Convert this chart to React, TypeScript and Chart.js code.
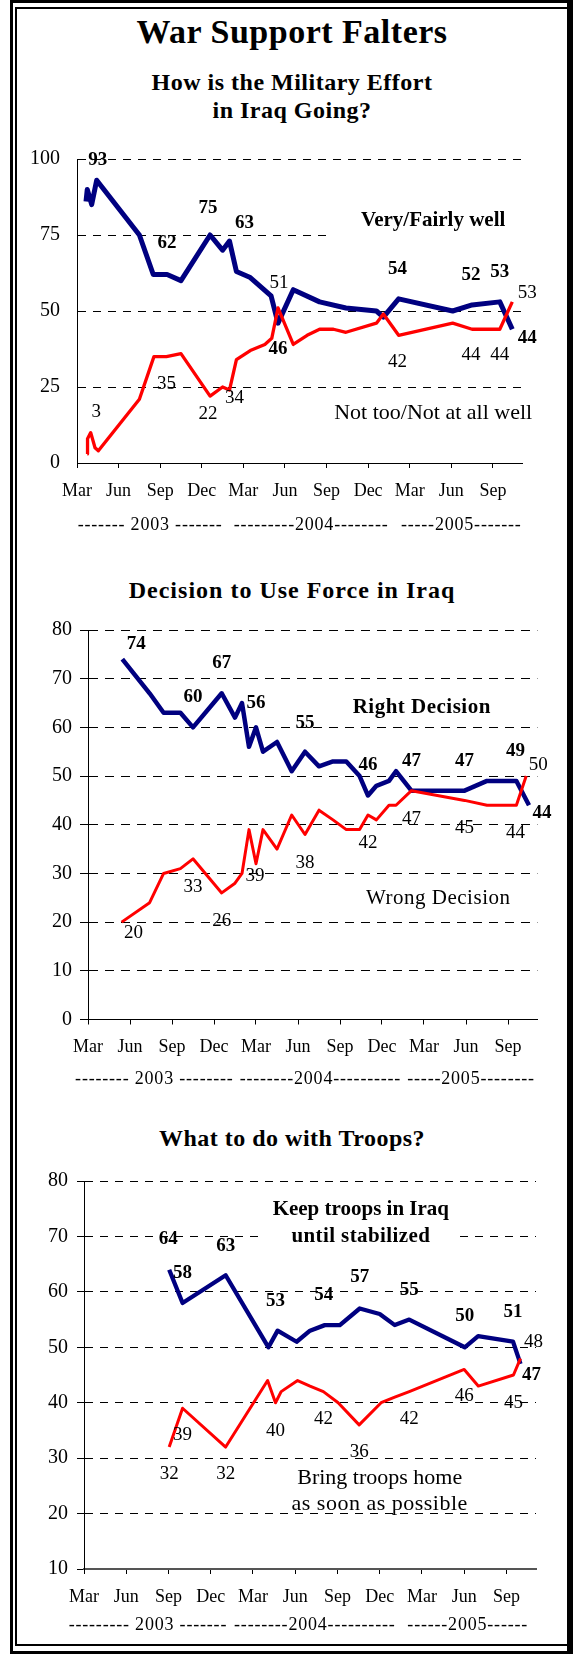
import React, { useEffect, useRef } from "react";
import { Chart, registerables } from "chart.js";

Chart.register(...registerables);

const FONT = "'Liberation Serif', 'Times New Roman', Times, serif";
const NAVY = "#000080";
const RED = "#ff0000";

// ---------- shared x axis (months since March 2003) ----------
const MONTH_TICKS = [0, 3, 6, 9, 12, 15, 18, 21, 24, 27, 30];
const MONTH_LABELS = ["Mar", "Jun", "Sep", "Dec", "Mar", "Jun", "Sep", "Dec", "Mar", "Jun", "Sep"];
const X_MAX = 32.1;

// ---------- Chart 1: How is the Military Effort in Iraq Going? ----------
const effortWellMonths = [0.65, 0.74, 1.06, 1.42, 4.5, 5.5, 6.5, 7.5, 9.6, 10.5, 11.0, 11.5, 12.5, 14.0, 14.5, 15.6, 17.5, 19.4, 21.6, 22.1, 23.2, 27.1, 28.5, 30.5, 31.4];
const effortWellValues = [86, 90, 85, 93, 75, 62, 62, 60, 75, 70, 73, 63, 61, 55, 46, 57, 53, 51, 50, 48, 54, 50, 52, 53, 44];
const effortNotWellMonths = [0.74, 0.76, 0.99, 1.3, 1.54, 4.5, 5.55, 6.45, 7.5, 9.6, 10.5, 11.0, 11.5, 12.5, 13.55, 14.05, 14.5, 15.6, 16.6, 17.5, 18.5, 19.4, 21.6, 22.1, 23.2, 27.1, 28.5, 30.5, 31.4];
const effortNotWellValues = [3, 8, 10, 5, 4, 21, 35, 35, 36, 22, 25, 24, 34, 37, 39, 41, 51, 39, 42, 44, 44, 43, 46, 49, 42, 46, 44, 44, 53];
const effortYears = ["------- 2003 -------", "---------2004--------", "-----2005-------"];

// ---------- Chart 2: Decision to Use Force in Iraq ----------
const decisionRightMonths = [2.45, 4.4, 5.4, 6.6, 7.5, 9.55, 10.5, 11.0, 11.5, 12.0, 12.5, 13.5, 14.55, 15.5, 16.5, 17.5, 18.45, 19.4, 20.0, 20.6, 21.5, 22.0, 23.1, 26.9, 28.5, 30.6, 31.5];
const decisionRightValues = [74, 67, 63, 63, 60, 67, 62, 65, 56, 60, 55, 57, 51, 55, 52, 53, 53, 50, 46, 48, 49, 51, 47, 47, 49, 49, 44];
const decisionWrongMonths = [2.4, 4.4, 5.4, 6.6, 7.5, 9.55, 10.5, 11.0, 11.5, 12.0, 12.5, 13.5, 14.55, 15.5, 16.5, 17.5, 18.45, 19.4, 20.0, 20.6, 21.5, 22.0, 23.1, 26.9, 28.5, 30.6, 31.3];
const decisionWrongValues = [20, 24, 30, 31, 33, 26, 28, 30, 39, 32, 39, 35, 42, 38, 43, 41, 39, 39, 42, 41, 44, 44, 47, 45, 44, 44, 50];
const decisionYears = ["-------- 2003 --------", "--------2004----------", "-----2005--------"];

// ---------- Chart 3: What to do with Troops? ----------
const troopsKeepMonths = [6.05, 7.0, 10.06, 13.1, 13.75, 15.1, 16.05, 17.1, 18.17, 19.58, 21.0, 22.07, 23.1, 27.04, 27.99, 30.47, 31.0];
const troopsKeepValues = [64, 58, 63, 50, 53, 51, 53, 54, 54, 57, 56, 54, 55, 50, 52, 51, 47];
const troopsHomeMonths = [6.05, 7.0, 10.06, 13.04, 13.6, 14.0, 15.17, 16.05, 17.0, 18.05, 19.54, 21.1, 22.07, 23.1, 27.0, 28.0, 30.5, 31.0];
const troopsHomeValues = [32, 39, 32, 44, 40, 42, 44, 43, 42, 40, 36, 40, 41, 42, 46, 43, 45, 48];
const troopsYears = ["--------- 2003 -------", "--------2004----------", "------2005------"];

type Pt = { x: number; y: number };
const pts = (xs: number[], ys: number[]): Pt[] => xs.map((x, i) => ({ x, y: ys[i] }));

// [series ("b" blue bold / "r" red normal), point index, dx, dy]
type LabelSpec = [string, number, number, number];
// bg: white text-box [left, right, top, bottom] offsets around the text anchor
type TextSpec = { text: string; m: number; v: number; bold: boolean; size: number; spacing: number; bg?: number[] };

interface Spec {
  canvasTop: number;
  canvasHeight: number;
  plotTop: number;
  plotBottom: number;
  axisLeft: number;
  axisRight: number;
  yMin: number;
  yMax: number;
  yStep: number;
  yTickLen: number;
  yTickPad: number;
  blue: Pt[];
  red: Pt[];
  blueWidth: number;
  redWidth: number;
  labels: LabelSpec[];
  texts: TextSpec[];
  years: string[];
  yearMonths: number[];
  yearOffset: number;
  xAxisColor: string;
  xAxisWidth: number;
  dash: number[];
}

const specs: Spec[] = [
  {
    canvasTop: 130,
    canvasHeight: 420,
    plotTop: 150,
    plotBottom: 463,
    axisLeft: 77,
    axisRight: 522,
    yMin: 0,
    yMax: 100,
    yStep: 25,
    yTickLen: 0,
    yTickPad: 17,
    blue: pts(effortWellMonths, effortWellValues),
    red: pts(effortNotWellMonths, effortNotWellValues),
    blueWidth: 5,
    redWidth: 3.3,
    labels: [
      ["b", 3, 1, -20], ["b", 8, -2, -27], ["b", 11, 8, -48], ["b", 6, 0, -31], ["b", 14, 0, 26],
      ["b", 20, -1, -30], ["b", 22, -1, -30], ["b", 23, 0, -30], ["b", 24, 15, 9],
      ["r", 16, 1, -25], ["r", 0, 9, -42], ["r", 7, 0, 27], ["r", 9, -2, 18], ["r", 12, -2, 38],
      ["r", 24, -1, 27], ["r", 26, -1, 26], ["r", 27, 0, 26], ["r", 28, 15, -9],
    ],
    texts: [
      { text: "Very/Fairly well", m: 25.69, v: 79.8, bold: true, size: 21, spacing: 0, bg: [-101, 92, -16, 18] },
      { text: "Not too/Not at all well", m: 25.69, v: 16.4, bold: false, size: 22, spacing: 0 },
    ],
    years: effortYears,
    yearMonths: [5.28, 16.89, 27.72],
    yearOffset: 62,
    xAxisColor: "#000",
    xAxisWidth: 1,
    dash: [8, 7],
  },
  {
    canvasTop: 610,
    canvasHeight: 480,
    plotTop: 629.3,
    plotBottom: 1019.5,
    axisLeft: 88,
    axisRight: 537.4,
    yMin: 0,
    yMax: 80,
    yStep: 10,
    yTickLen: 8,
    yTickPad: 8,
    blue: pts(decisionRightMonths, decisionRightValues),
    red: pts(decisionWrongMonths, decisionWrongValues),
    blueWidth: 4.5,
    redWidth: 3,
    labels: [
      ["b", 0, 14, -15], ["b", 5, 0, -30], ["b", 4, 0, -30], ["b", 8, 7, -44], ["b", 13, 0, -29],
      ["b", 18, 0, -30], ["b", 22, 0, -30], ["b", 23, 0, -30], ["b", 25, -1, -30], ["b", 26, 13, 8],
      ["r", 0, 12, 11], ["r", 4, 0, 28], ["r", 5, 0, 28], ["r", 8, 6, 46], ["r", 13, 0, 29],
      ["r", 18, 0, 28], ["r", 22, 0, 28], ["r", 23, 0, 28], ["r", 25, -1, 28], ["r", 26, 12, -11],
    ],
    texts: [
      { text: "Right Decision", m: 23.84, v: 64.1, bold: true, size: 21, spacing: 0.5 },
      { text: "Wrong Decision", m: 25.02, v: 24.8, bold: false, size: 21, spacing: 0.5 },
    ],
    years: decisionYears,
    yearMonths: [4.74, 16.6, 27.36],
    yearOffset: 60,
    xAxisColor: "#000",
    xAxisWidth: 1,
    dash: [9, 7],
  },
  {
    canvasTop: 1160,
    canvasHeight: 480,
    plotTop: 1177.3,
    plotBottom: 1569,
    axisLeft: 84,
    axisRight: 536,
    yMin: 10,
    yMax: 80,
    yStep: 10,
    yTickLen: 7,
    yTickPad: 9,
    blue: pts(troopsKeepMonths, troopsKeepValues),
    red: pts(troopsHomeMonths, troopsHomeValues),
    blueWidth: 4.3,
    redWidth: 3,
    labels: [
      ["b", 0, -1, -31], ["b", 1, 0, -30], ["b", 2, 0, -29], ["b", 4, -2, -30], ["b", 7, -1, -30],
      ["b", 9, 0, -31], ["b", 12, 0, -29], ["b", 13, 0, -31], ["b", 15, 0, -30], ["b", 16, 11, 11],
      ["r", 0, 0, 27], ["r", 1, 0, 27], ["r", 2, 0, 27], ["r", 4, 0, 28], ["r", 8, 0, 27],
      ["r", 10, 0, 27], ["r", 13, 0, 27], ["r", 14, 0, 27], ["r", 16, 0, 28], ["r", 17, 13, -16],
    ],
    texts: [
      { text: "Keep troops in Iraq", m: 19.66, v: 74.8, bold: true, size: 21, spacing: 0, bg: [-98, 94, -15, 42] },
      { text: "until stabilized", m: 19.66, v: 70.0, bold: true, size: 21, spacing: 0.4 },
      { text: "Bring troops home", m: 21.0, v: 26.4, bold: false, size: 22, spacing: 0 },
      { text: "as soon as possible", m: 21.0, v: 21.6, bold: false, size: 22, spacing: 0.5 },
    ],
    years: troopsYears,
    yearMonths: [4.54, 16.39, 27.25],
    yearOffset: 56,
    xAxisColor: "#555",
    xAxisWidth: 2,
    dash: [8, 7],
  },
];

function LineChart({ spec }: { spec: Spec }) {
  const ref = useRef<HTMLCanvasElement>(null);

  useEffect(() => {
    const canvas = ref.current;
    if (!canvas) return;

    const annotate = {
      id: "annotate",
      beforeDatasetsDraw(chart: any) {
        const ctx: any = chart.ctx;
        const xs = chart.scales.x;
        const ys = chart.scales.y;
        ctx.save();
        ctx.fillStyle = "#fff";
        spec.texts.forEach((t) => {
          if (!t.bg) return;
          const x = xs.getPixelForValue(t.m);
          const y = ys.getPixelForValue(t.v);
          ctx.fillRect(x + t.bg[0], y + t.bg[2], t.bg[1] - t.bg[0], t.bg[3] - t.bg[2]);
        });
        ctx.restore();
      },
      afterDatasetsDraw(chart: any) {
        const ctx: any = chart.ctx;
        const xs = chart.scales.x;
        const ys = chart.scales.y;
        ctx.save();
        ctx.textAlign = "center";
        ctx.textBaseline = "middle";
        ctx.fillStyle = "#000";
        spec.labels.forEach(([series, idx, dx, dy]) => {
          const dsIndex = series === "b" ? 1 : 0;
          const el = chart.getDatasetMeta(dsIndex).data[idx];
          const value = (chart.data.datasets[dsIndex].data[idx] as Pt).y;
          ctx.font = `${series === "b" ? "bold " : ""}19px ${FONT}`;
          ctx.letterSpacing = "0px";
          ctx.fillText(String(value), el.x + dx, el.y + dy);
        });
        spec.texts.forEach((t) => {
          ctx.font = `${t.bold ? "bold " : ""}${t.size}px ${FONT}`;
          ctx.letterSpacing = `${t.spacing}px`;
          ctx.fillText(t.text, xs.getPixelForValue(t.m), ys.getPixelForValue(t.v));
        });
        ctx.font = `18px ${FONT}`;
        ctx.letterSpacing = "0.8px";
        spec.years.forEach((txt, i) => {
          ctx.fillText(txt, xs.getPixelForValue(spec.yearMonths[i]), chart.chartArea.bottom + spec.yearOffset);
        });
        ctx.restore();
      },
    };

    const chart = new Chart(canvas, {
      type: "line",
      data: {
        datasets: [
          { data: spec.red, borderColor: RED, borderWidth: spec.redWidth, order: 0, fill: false },
          { data: spec.blue, borderColor: NAVY, borderWidth: spec.blueWidth, order: 1, fill: false },
        ],
      },
      options: {
        animation: false,
        responsive: false,
        maintainAspectRatio: false,
        events: [],
        layout: {
          padding: {
            left: 0,
            right: 573 - spec.axisRight,
            top: spec.plotTop - spec.canvasTop,
            bottom: 0,
          },
        },
        plugins: {
          legend: { display: false },
          tooltip: { enabled: false },
          title: { display: false },
        },
        elements: {
          point: { radius: 0 },
          line: { tension: 0, borderJoinStyle: "round", borderCapStyle: "butt" },
        },
        scales: {
          x: {
            type: "linear",
            min: 0,
            max: X_MAX,
            afterBuildTicks: (s: any) => {
              s.ticks = MONTH_TICKS.map((v) => ({ value: v }));
            },
            afterFit: (s: any) => {
              s.height = spec.canvasTop + spec.canvasHeight - spec.plotBottom;
            },
            grid: {
              display: true,
              drawOnChartArea: false,
              drawTicks: true,
              tickLength: 5,
              tickColor: "#000",
              tickWidth: 1,
            },
            border: { display: true, color: spec.xAxisColor, width: spec.xAxisWidth },
            ticks: {
              autoSkip: false,
              maxRotation: 0,
              minRotation: 0,
              padding: 12,
              color: "#000",
              font: { family: FONT, size: 18 },
              callback: (_v: any, i: number) => MONTH_LABELS[i],
            },
          },
          y: {
            type: "linear",
            min: spec.yMin,
            max: spec.yMax,
            afterFit: (s: any) => {
              s.width = spec.axisLeft;
            },
            grid: {
              display: true,
              drawOnChartArea: true,
              drawTicks: spec.yTickLen > 0,
              tickLength: spec.yTickLen,
              color: "#000",
              lineWidth: 1,
              tickColor: "#000",
              tickWidth: 1,
              tickBorderDash: [],
            },
            border: { display: true, color: "#000", width: 1, dash: spec.dash },
            ticks: {
              stepSize: spec.yStep,
              padding: spec.yTickPad,
              color: "#000",
              font: { family: FONT, size: 20 },
            },
          },
        },
      },
      plugins: [annotate],
    } as any);

    return () => chart.destroy();
  }, [spec]);

  return (
    <canvas
      ref={ref}
      width={573}
      height={spec.canvasHeight}
      style={{ position: "absolute", left: 0, top: spec.canvasTop, width: 573, height: spec.canvasHeight }}
    />
  );
}

function Title({ text, cy, size, spacing }: { text: string; cy: number; size: number; spacing?: number }) {
  return (
    <div
      style={{
        position: "absolute",
        left: 15,
        width: 554,
        top: cy - size / 2,
        height: size,
        lineHeight: `${size}px`,
        fontFamily: FONT,
        fontWeight: "bold",
        fontSize: size,
        letterSpacing: spacing ?? 0,
        textAlign: "center",
        whiteSpace: "pre",
        color: "#000",
      }}
    >
      {text}
    </div>
  );
}

export default function App() {
  const line = (s: React.CSSProperties) => (
    <div style={{ position: "absolute", background: "#000", ...s }} />
  );
  return (
    <div style={{ position: "absolute", left: 0, top: 0, width: 573, height: 1654, background: "#fff", overflow: "hidden" }}>
      <Title text="War Support Falters" cy={32} size={34} spacing={0.5} />
      <Title text="How is the Military Effort" cy={82} size={24} spacing={0.5} />
      <Title text="in Iraq Going?" cy={110} size={24} spacing={0.5} />
      <Title text="Decision to Use Force in Iraq" cy={590} size={24} spacing={1} />
      <Title text="What to do with Troops?" cy={1138} size={24} spacing={0.5} />
      {specs.map((s, i) => (
        <LineChart key={i} spec={s} />
      ))}
      {/* double frame */}
      {line({ left: 10, top: 0, width: 3, height: 1654 })}
      {line({ left: 15, top: 7, width: 2, height: 1639 })}
      {line({ left: 567, top: 0, width: 6, height: 1654 })}
      {line({ left: 10, top: 0, width: 563, height: 3 })}
      {line({ left: 15, top: 7, width: 552, height: 2 })}
      {line({ left: 10, top: 1651, width: 563, height: 3 })}
      {line({ left: 15, top: 1644, width: 552, height: 2 })}
    </div>
  );
}
